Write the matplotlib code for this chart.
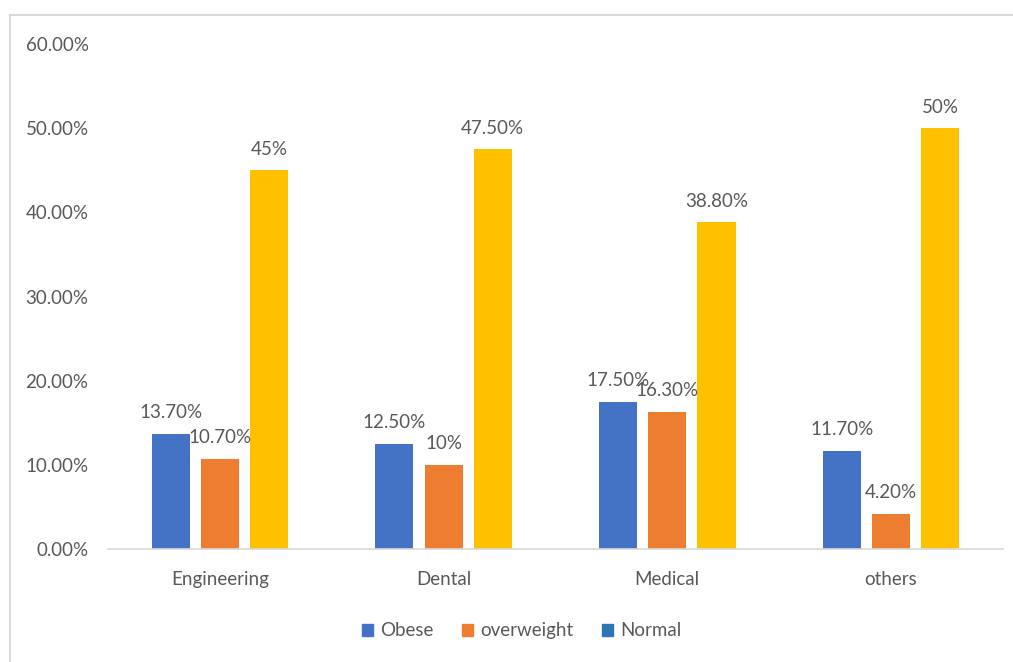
import numpy as np
import matplotlib
matplotlib.use("Agg")
import matplotlib.pyplot as plt
from matplotlib.patches import Rectangle, Patch

categories = ["Engineering", "Dental", "Medical", "others"]
obese = [13.7, 12.5, 17.5, 11.7]
overweight = [10.7, 10.0, 16.3, 4.2]
normal = [45.0, 47.5, 38.8, 50.0]
obese_labels = ["13.70%", "12.50%", "17.50%", "11.70%"]
overweight_labels = ["10.70%", "10%", "16.30%", "4.20%"]
normal_labels = ["45%", "47.50%", "38.80%", "50%"]
yticks = [0, 10, 20, 30, 40, 50, 60]

plt.rcParams["font.family"] = ["Lato", "DejaVu Sans"]
text_color = "#595959"
fs = 13.5

fig = plt.figure(figsize=(10.13, 6.62), dpi=100)
ax = fig.add_axes([0.1066, 0.1707, 0.8834, 0.7628])

# light gray frame around the chart area
fig.patches.append(Rectangle((0.0099, -0.01), 1.0, 0.987, transform=fig.transFigure,
                             fill=False, edgecolor="#d9d9d9", linewidth=1.5))

x = np.arange(len(categories))
width = 0.17
offset = 0.22
series = [
    (obese, obese_labels, "#4472C4", -offset),
    (overweight, overweight_labels, "#ED7D31", 0.0),
    (normal, normal_labels, "#FFC000", offset),
]
for vals, labels, color, off in series:
    bars = ax.bar(x + off, vals, width, color=color)
    for b, lab in zip(bars, labels):
        ax.annotate(lab, (b.get_x() + b.get_width() / 2, b.get_height()),
                    xytext=(0, 9), textcoords="offset points",
                    ha="center", va="bottom", fontsize=fs, color=text_color)

ax.set_xlim(-0.5, len(categories) - 0.5)
ax.set_ylim(0, 60)
ax.set_yticks(yticks)
ax.set_yticklabels([f"{v:.2f}%" for v in yticks])
ax.set_xticks(x)
ax.set_xticklabels(categories)
ax.tick_params(axis="both", length=0, labelsize=fs, labelcolor=text_color)
ax.tick_params(axis="y", pad=14)
ax.tick_params(axis="x", pad=16)
for s in ["top", "right", "left"]:
    ax.spines[s].set_visible(False)
ax.spines["bottom"].set_color("#d9d9d9")
ax.spines["bottom"].set_linewidth(1.2)

handles = [Patch(color="#4472C4", label="Obese"),
           Patch(color="#ED7D31", label="overweight"),
           Patch(color="#2E75B6", label="Normal")]
fig.legend(handles=handles, loc="center", bbox_to_anchor=(0.515, 0.047), ncol=3,
           frameon=False, fontsize=fs, labelcolor=text_color,
           handlelength=0.6, handleheight=0.6, handletextpad=0.4, columnspacing=1.5)

fig.savefig("out.png", dpi=100)
